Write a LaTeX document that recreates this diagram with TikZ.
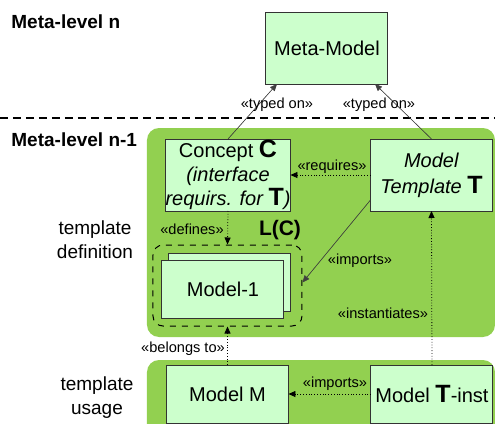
\documentclass[tikz,border=0pt]{standalone}
\usepackage{fontspec}
\setmainfont{Liberation Sans}
\usetikzlibrary{arrows.meta,positioning}
\definecolor{boxgreen}{HTML}{CCFFCC}
\definecolor{panelgreen}{HTML}{92D050}
\definecolor{boxline}{HTML}{333333}
\newcommand{\bigT}{{\normalfont\fontsize{12.5}{12}\selectfont\bfseries T}}
\newcommand{\bigC}{{\normalfont\fontsize{12.5}{12}\selectfont\bfseries C}}
\tikzset{
  modelbox/.style={draw=boxline,fill=boxgreen,line width=0.5pt,align=center,inner sep=0pt,outer sep=0pt,minimum width=61pt,minimum height=36pt,font=\fontsize{10}{12}\selectfont},
  flatbox/.style={modelbox,minimum height=29pt},
  panel/.style={fill=panelgreen,rounded corners=6pt},
  levelhead/.style={font=\fontsize{9.5}{11}\selectfont\bfseries,anchor=west,inner sep=0pt},
  sidelabel/.style={font=\fontsize{9.5}{12}\selectfont,align=center,inner sep=0pt},
  stereo/.style={font=\fontsize{7.3}{9}\selectfont,inner sep=0.5pt},
  typedlink/.style={-{Triangle[length=3.5pt,width=3pt]},draw=black!75,fill=black,line width=0.3pt},
  deplink/.style={-{Triangle[length=3.5pt,width=3pt]},densely dotted,line width=0.4pt}
}
\begin{document}
\begin{tikzpicture}[x=0.5pt,y=-0.5pt]
  \useasboundingbox (0,0) rectangle (495,424);
  \clip (0,0) rectangle (495,424);
  % panels of level n-1
  \fill[panel] (147,128) rectangle (495,337);
  \fill[panel] (147,360) rectangle (495,450);
  \draw[dash pattern=on 4pt off 2.5pt,line width=0.6pt] (0,118) -- (495,118);
  % level headings
  \node[levelhead] (headn) at (11,22) {Meta-level n};
  \node[levelhead] (headnm) at (11,140) {Meta-level n-1};
  \node[sidelabel] (tdef) at (95,240) {template\\definition};
  \node[sidelabel] (tuse) at (97,398) {template\\usage};
  % boxes
  \node[modelbox] (meta) at (327,48) {Meta-Model};
  \node[modelbox] (concept) at (228,175) {Concept \bigC\\\textit{(interface}\\\textit{requirs. for \bigT)}};
  \node[modelbox,font=\fontsize{10}{13}\selectfont] (template) at (431.5,175) {\textit{Model}\\\textit{Template} \bigT};
  \node[draw,dashed,rounded corners=5pt,minimum width=74.5pt,minimum height=40.5pt,line width=0.5pt] (lset) at (227.5,285.5) {};
  \node[font=\fontsize{10.5}{12}\selectfont\bfseries,inner sep=0pt] (lsetname) at (280,230) {L(C)};
  \node[flatbox] (model1back) at (229.5,282) {};
  \node[flatbox] (model1) at (223,289.5) {Model-1};
  \node[flatbox] (modelm) at (227.5,394) {Model M};
  \node[flatbox] (tinst) at (432,394) {Model \bigT-inst};
  % connectors
  \draw[typedlink] (concept.north) -- ([xshift=-25pt]meta.south);
  \draw[typedlink] (template.north) -- ([xshift=24pt]meta.south);
  \draw[deplink] (template.west) -- (concept.east);
  \draw[deplink] (concept.south) -- (lset.north);
  \draw[typedlink] ([yshift=-12.5pt]template.west) -- ([yshift=1.5pt]lset.east);
  \draw[deplink] (tinst.north) -- (template.south);
  \draw[deplink] (modelm.north) -- (lset.south);
  \draw[deplink] (tinst.west) -- (modelm.east);
  % stereotypes
  \node[stereo] (typedl) at (277,105) {«typed on»};
  \node[stereo] (typedr) at (379,105) {«typed on»};
  \node[stereo] (requires) at (332,167) {«requires»};
  \node[stereo] (defines) at (192,229) {«defines»};
  \node[stereo] (importsup) at (360,261) {«imports»};
  \node[stereo] (instantiates) at (383,313) {«instantiates»};
  \node[stereo] (belongs) at (183,349) {«belongs to»};
  \node[stereo] (importsdown) at (335,384) {«imports»};
\end{tikzpicture}
\end{document}
